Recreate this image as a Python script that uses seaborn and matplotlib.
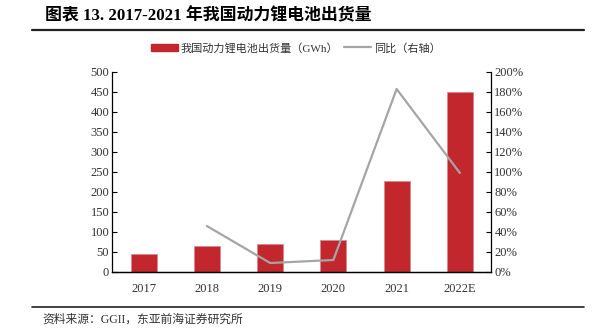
import matplotlib
matplotlib.use("Agg")
import matplotlib.pyplot as plt
import seaborn as sns
import pandas as pd
import numpy as np
from matplotlib.patches import Patch
from matplotlib.lines import Line2D

years = ["2017", "2018", "2019", "2020", "2021", "2022E"]
shipments = [44.5, 65, 71, 80, 227, 450]
yoy = [np.nan, 46, 9, 12, 183, 99]
left_ticks = [0, 50, 100, 150, 200, 250, 300, 350, 400, 450, 500]
right_ticks = [0, 20, 40, 60, 80, 100, 120, 140, 160, 180, 200]

title = "图表 13. 2017-2021 年我国动力锂电池出货量"
bar_label = "我国动力锂电池出货量（GWh）"
line_label = "同比（右轴）"
source = "资料来源：GGII，东亚前海证券研究所"

sns.set_theme(style="white")
plt.rcParams['font.family'] = ['Liberation Serif', 'Noto Sans CJK SC', 'DejaVu Sans']

df = pd.DataFrame({"year": years, "ship": shipments, "yoy": yoy})

fig = plt.figure(figsize=(6.03, 3.30), dpi=100)
ax = fig.add_axes([112/603, 1-272/330, (491.5-112)/603, 200/330])

RED = "#C1272D"
GRAY = "#A5A5A5"
sns.barplot(data=df, x="year", y="ship", color=RED, width=0.41, ax=ax,
            saturation=1, edgecolor="#D98A8E", linewidth=0.6)
ax.set_xlim(-0.5, 5.5)
ax.set_ylim(0, 500)
ax.set_yticks(left_ticks)
ax.set_xlabel("")
ax.set_ylabel("")

ax2 = ax.twinx()
sns.lineplot(x=np.arange(len(years)), y=df["yoy"], color=GRAY, linewidth=1.6, ax=ax2)
ax2.set_ylim(0, 200)
ax2.set_yticks(right_ticks)
ax2.set_yticklabels([f"{t}%" for t in right_ticks])
ax2.set_ylabel("")
ax2.set_xlim(-0.5, 5.5)

for a in (ax, ax2):
    a.spines["top"].set_visible(False)
    for s in ["left", "right", "bottom"]:
        a.spines[s].set_color("black")
        a.spines[s].set_linewidth(0.9)
ax.spines["right"].set_visible(False)
ax2.spines["left"].set_visible(False)

ax.tick_params(axis="y", direction="in", length=3.5, width=0.8, color="black",
               labelsize=9, labelcolor="#333333", pad=2, left=True)
ax.tick_params(axis="x", length=0, labelsize=9, labelcolor="#333333", pad=8)
ax2.tick_params(axis="y", direction="in", length=3.5, width=0.8, color="black",
                labelsize=9, labelcolor="#333333", pad=2, right=True)

handles = [Patch(facecolor=RED, edgecolor=RED, label=bar_label),
           Line2D([0], [0], color=GRAY, linewidth=1.6, label=line_label)]
fig.legend(handles=handles, loc="center", bbox_to_anchor=(296/603, 1-48/330),
           ncol=2, frameon=False, fontsize=8, handlelength=2.4, handleheight=0.7,
           columnspacing=0.5, handletextpad=0.3, labelcolor="#333333")

fig.text(45/603, 1-16/330, title, fontsize=12.2, fontweight="bold", va="center", ha="left",
         color="black")
fig.add_artist(Line2D([32/603, 584/603], [1-29.5/330, 1-29.5/330], color="#222222", linewidth=1.6))
fig.add_artist(Line2D([32/603, 584/603], [1-307/330, 1-307/330], color="#222222", linewidth=1.2))
fig.text(42.5/603, 1-320/330, source, fontsize=8.5, va="center", ha="left", color="#333333")

fig.savefig("out.png", dpi=100)
